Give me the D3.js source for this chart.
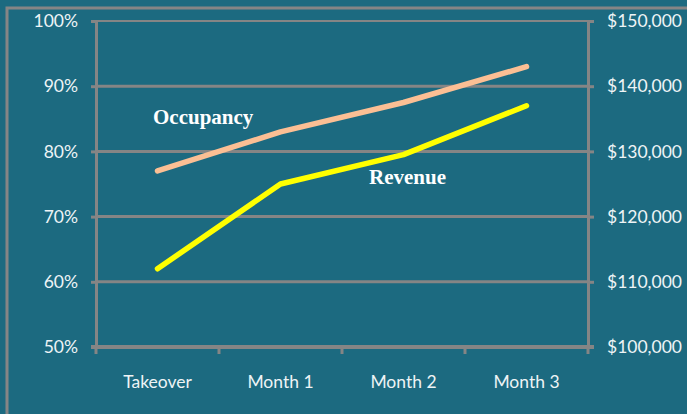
<!DOCTYPE html>
<html>
<head>
<meta charset="utf-8">
<script src="https://cdn.jsdelivr.net/npm/d3@7"></script>
<style>
  body { margin: 0; background: #1c6a80; }
  svg { display: block; }
  .axis text { fill: #eef4f6; font-family: Lato, "Open Sans", sans-serif; font-size: 17.5px; }
  .axis path, .axis line { stroke: #858585; }
  .series-label { fill: #ffffff; font-family: "Liberation Serif", "Times New Roman", serif; font-weight: bold; font-size: 21px; }
</style>
</head>
<body>
<svg id="chart"></svg>
<script>
// Data
const periods = ["Takeover", "Month 1", "Month 2", "Month 3"];
const occupancy = [0.77, 0.83, 0.875, 0.93];
const revenue = [112000, 125000, 129500, 137000];
const pctTicks = [0.5, 0.6, 0.7, 0.8, 0.9, 1.0];
const revTicks = [100000, 110000, 120000, 130000, 140000, 150000];

const config = {
    containerWidth: 687,
    containerHeight: 414,
    margin: { top: 21, bottom: 67, right: 99, left: 96 }
};

const width = config.containerWidth - config.margin.left - config.margin.right;
const height = config.containerHeight - config.margin.top - config.margin.bottom;

const svg = d3.select('#chart')
    .attr('width', config.containerWidth)
    .attr('height', config.containerHeight);

// outer frame (runs off the right and bottom edges)
svg.append('rect')
    .attr('x', 7).attr('y', 8)
    .attr('width', 720).attr('height', 440)
    .attr('fill', 'none')
    .attr('stroke', '#858585')
    .attr('stroke-width', 3);

const chart = svg.append('g')
    .attr('transform', `translate(${config.margin.left},${config.margin.top})`);

// Scales
const xScale = d3.scaleBand().domain(periods).range([0, width]);
const yLeft = d3.scaleLinear().domain([0.5, 1.0]).range([height, 0]);
const yRight = d3.scaleLinear().domain([100000, 150000]).range([height, 0]);

// Gridlines
chart.append('g')
    .selectAll('line')
    .data(pctTicks.slice(1))
    .join('line')
        .attr('x1', 0).attr('x2', width)
        .attr('y1', d => yLeft(d)).attr('y2', d => yLeft(d))
        .attr('stroke', '#858585')
        .attr('stroke-width', d => d === 1.0 ? 2 : 3);

// Axes
const leftAxis = d3.axisLeft(yLeft).tickValues(pctTicks).tickFormat(d3.format('.0%')).tickSize(5).tickPadding(13);
const rightAxis = d3.axisRight(yRight).tickValues(revTicks).tickFormat(d => '$' + d3.format(',')(d)).tickSize(6).tickPadding(13);

const leftG = chart.append('g').attr('class', 'axis').call(leftAxis);
const rightG = chart.append('g').attr('class', 'axis')
    .attr('transform', `translate(${width},0)`).call(rightAxis);

[leftG, rightG].forEach(g => {
    g.select('.domain').attr('stroke-width', 3);
    g.selectAll('.tick line').attr('stroke-width', 3);
});

// Bottom axis: ticks between categories
const bottomG = chart.append('g').attr('class', 'axis')
    .attr('transform', `translate(0,${height})`);
bottomG.append('line')
    .attr('x1', -5).attr('x2', width + 6)
    .attr('stroke', '#858585').attr('stroke-width', 4);
bottomG.selectAll('.sep')
    .data(d3.range(periods.length + 1))
    .join('line')
        .attr('class', 'sep')
        .attr('x1', i => i * xScale.step()).attr('x2', i => i * xScale.step())
        .attr('y1', 0).attr('y2', 7)
        .attr('stroke', '#858585').attr('stroke-width', 3);
bottomG.selectAll('.lbl')
    .data(periods)
    .join('text')
        .attr('class', 'lbl')
        .attr('x', d => xScale(d) + xScale.bandwidth() / 2)
        .attr('y', 35)
        .attr('dy', '0.35em')
        .attr('text-anchor', 'middle')
        .text(d => d);

// Lines
const xMid = d => xScale(d) + xScale.bandwidth() / 2;

const occLine = d3.line().x((d, i) => xMid(periods[i])).y(d => yLeft(d));
const revLine = d3.line().x((d, i) => xMid(periods[i])).y(d => yRight(d));

chart.append('path')
    .datum(occupancy)
    .attr('d', occLine)
    .attr('fill', 'none')
    .attr('stroke', '#fbbf94')
    .attr('stroke-width', 5.5)
    .attr('stroke-linecap', 'round')
    .attr('stroke-linejoin', 'round');

chart.append('path')
    .datum(revenue)
    .attr('d', revLine)
    .attr('fill', 'none')
    .attr('stroke', '#ffff00')
    .attr('stroke-width', 5.5)
    .attr('stroke-linecap', 'round')
    .attr('stroke-linejoin', 'round');

// Series labels
chart.append('text')
    .attr('class', 'series-label')
    .attr('x', 153 - config.margin.left)
    .attr('y', 124 - config.margin.top)
    .text('Occupancy');

chart.append('text')
    .attr('class', 'series-label')
    .attr('x', 369 - config.margin.left)
    .attr('y', 184 - config.margin.top)
    .text('Revenue');
</script>
</body>
</html>
